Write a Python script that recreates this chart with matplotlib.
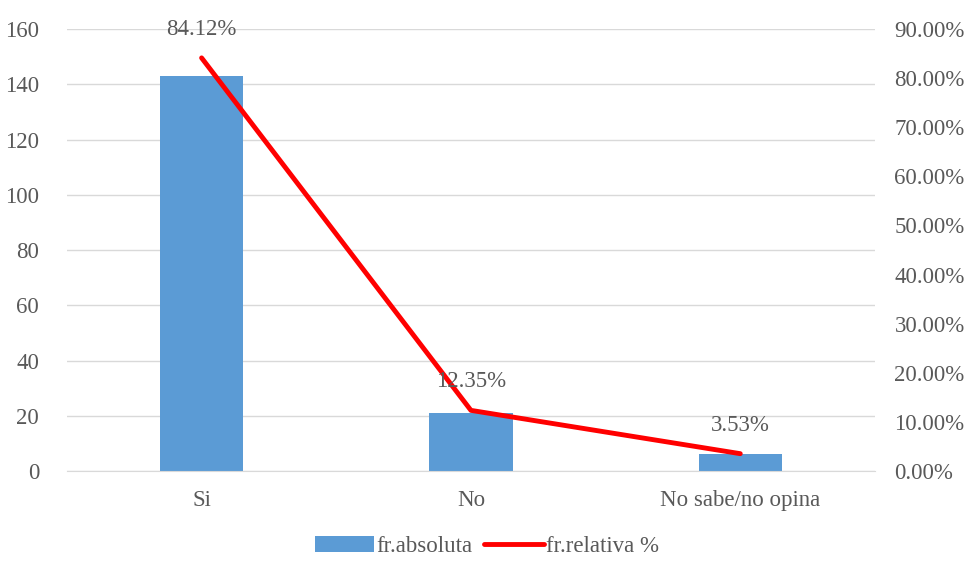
import matplotlib.pyplot as plt
import numpy as np

# data
categorias = ['Si', 'No', 'No sabe/no opina']
fr_absoluta = [143, 21, 6]
fr_relativa = [84.12, 12.35, 3.53]

plt.rcParams['font.family'] = ['Liberation Serif', 'DejaVu Serif']
gris = '#595959'
fs = 16.5

fig = plt.figure(figsize=(9.7, 5.61), dpi=100)
ax = fig.add_axes([0.069, 0.1604, 0.833, 0.7879])
x = np.arange(len(categorias))

ax.bar(x, fr_absoluta, width=0.31, color='#5B9BD5', label='fr.absoluta', zorder=2)
ax.set_ylim(0, 160)
ax.set_yticks(np.arange(0, 161, 20))
ax.set_xlim(-0.5, 2.5)
ax.set_xticks(x)
ax.set_xticklabels(categorias)
ax.yaxis.grid(True, color='#D9D9D9', linewidth=1, zorder=0)
for s in ['top', 'right', 'left']:
    ax.spines[s].set_visible(False)
ax.spines['bottom'].set_color('#D9D9D9')
ax.tick_params(axis='both', length=0, labelsize=fs, labelcolor=gris)
ax.tick_params(axis='y', pad=20)
ax.tick_params(axis='x', pad=14)

# secondary axis for the percentages
ax2 = ax.twinx()
ax2.plot(x, fr_relativa, color='#FF0000', linewidth=3.5, label='fr.relativa %', zorder=3,
         solid_capstyle='round')
ax2.set_ylim(0, 90)
ax2.set_yticks(np.arange(0, 91, 10))
ax2.set_yticklabels(['%.2f%%' % v for v in np.arange(0, 91, 10)])
ax2.tick_params(axis='y', length=0, labelsize=fs, labelcolor=gris, pad=14)
for s in ax2.spines.values():
    s.set_visible(False)

for xi, v in zip(x, fr_relativa):
    ax2.annotate('%.2f%%' % v, (xi, v), xytext=(0, 13), textcoords='offset points',
                 ha='center', va='bottom', fontsize=fs, color=gris)

h1, l1 = ax.get_legend_handles_labels()
h2, l2 = ax2.get_legend_handles_labels()
fig.legend(h1 + h2, l1 + l2, loc='lower center', bbox_to_anchor=(0.502, -0.03), ncol=2,
           frameon=False, fontsize=fs, labelcolor=gris, handlelength=2.6,
           handletextpad=0.1, columnspacing=0.5)

plt.savefig('out.png', dpi=100)
